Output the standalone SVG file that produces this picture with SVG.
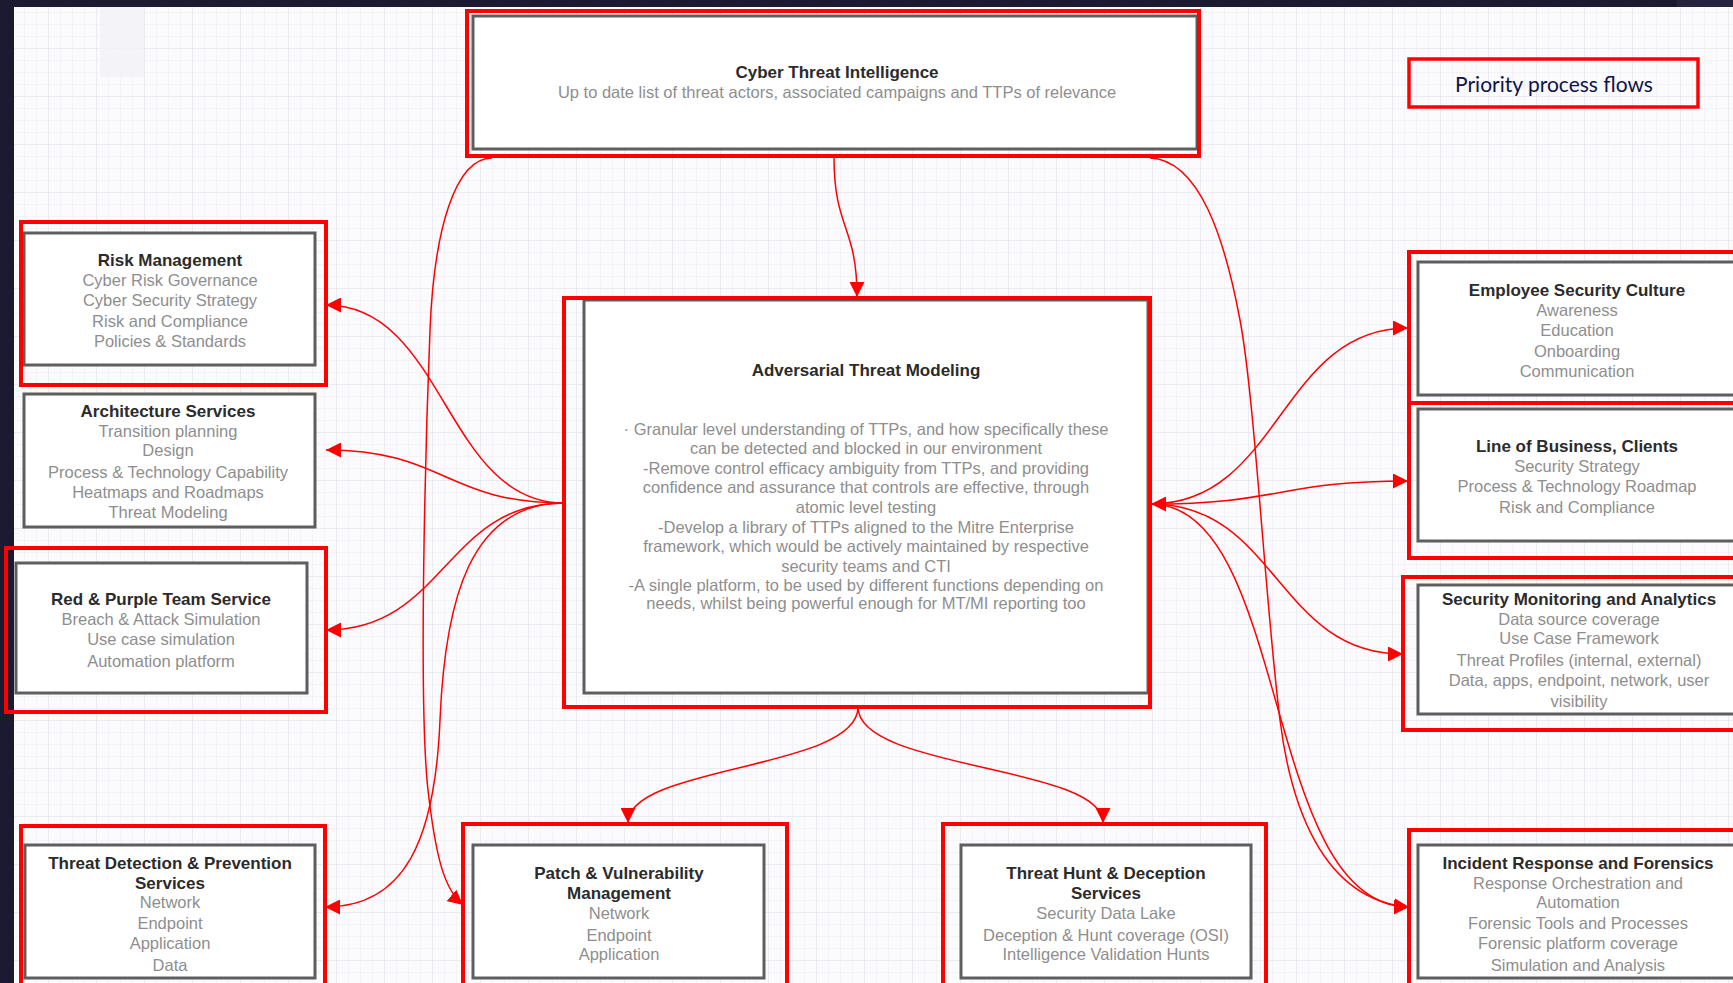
<svg xmlns="http://www.w3.org/2000/svg" width="1733" height="983" viewBox="0 0 1733 983">
<style>
.red{fill:none;stroke:#ff0000;stroke-width:4}
.box{fill:#ffffff;stroke:#5e5e5e;stroke-width:3}
.t{font-family:"Liberation Sans",Arial,sans-serif;font-size:17px;font-weight:bold;fill:#2b2b2b;text-anchor:middle}
.b{font-family:"Liberation Sans",Arial,sans-serif;font-size:16.5px;fill:#8e8e8e;text-anchor:middle}
.c{fill:none;stroke:#ff0000;stroke-width:1.5}
</style>
<defs>
<pattern id="grid" width="12" height="12" patternUnits="userSpaceOnUse"><path d="M12 0H0V12" fill="none" stroke="#ececf3" stroke-width="1"/></pattern>
<pattern id="grid2" width="48" height="48" patternUnits="userSpaceOnUse"><path d="M48 0H0V48" fill="none" stroke="#e3e3ec" stroke-width="1"/></pattern>
<marker id="ah" viewBox="0 0 15 15" refX="15" refY="7.5" markerWidth="15" markerHeight="15" markerUnits="userSpaceOnUse" orient="auto-start-reverse"><path d="M0,0 L15,7.5 L0,15 z" fill="#ff0000"/></marker>
</defs>
<rect width="1733" height="983" fill="#fbfbfe"/>
<rect width="1733" height="983" fill="url(#grid)"/>
<rect width="1733" height="983" fill="url(#grid2)"/>
<rect x="100" y="7" width="44" height="70" fill="#f1f1f6" opacity="0.8"/>
<rect x="0" y="0" width="1733" height="7" fill="#1c1a31"/>
<rect x="1677" y="0" width="56" height="7" fill="#25233d"/>
<rect x="0" y="0" width="14" height="983" fill="#1c1a31"/>

<g id="connectors">
<path class="c" d="M834,157 C834,230 857,225 857,297" marker-end="url(#ah)"/>
<path class="c" d="M564,503 C445,503 445,305 326,305" marker-end="url(#ah)"/>
<path class="c" d="M564,503 C445,503 445,450 326,450" marker-end="url(#ah)"/>
<path class="c" d="M564,503 C445,503 445,630 326,630" marker-end="url(#ah)"/>
<path class="c" d="M564,503 C470,503 445,600 440,720 C435,840 405,907 325,907" marker-end="url(#ah)"/>
<path class="c" d="M492,158 C455,158 434,230 430,330 C426,430 418,700 428,790 C436,860 445,890 463,905" marker-end="url(#ah)"/>
<path class="c" d="M858,707 C858,770 628,765 628,823" marker-end="url(#ah)"/>
<path class="c" d="M858,707 C858,770 1103,765 1103,823" marker-end="url(#ah)"/>
<path class="c" d="M1151,504 C1280,504 1280,328 1408,328" marker-start="url(#ah)" marker-end="url(#ah)"/>
<path class="c" d="M1151,504 C1280,504 1280,481 1408,481" marker-end="url(#ah)"/>
<path class="c" d="M1151,504 C1277,504 1277,654 1403,654" marker-end="url(#ah)"/>
<path class="c" d="M1151,504 C1290,504 1262,907 1409,907" marker-end="url(#ah)"/>
<path class="c" d="M1150,158 C1200,160 1225,240 1240,320 C1255,400 1265,600 1280,720 C1290,800 1320,900 1409,907" marker-end="url(#ah)"/>
</g>

<g id="cti">
<rect class="box" x="473" y="16" width="724" height="133"/>
<rect class="red" x="467" y="11" width="732" height="145"/>
<text class="t" x="837" y="78">Cyber Threat Intelligence</text>
<text class="b" x="837" y="98">Up to date list of threat actors, associated campaigns and TTPs of relevance</text>
</g>

<g id="priority">
<rect x="1409" y="59" width="289" height="48" fill="none" stroke="#ff0000" stroke-width="3.5"/>
<text x="1554" y="92" font-family="Lato, 'Open Sans', sans-serif" font-size="21" fill="#0d1446" text-anchor="middle">Priority process flows</text>
</g>

<g id="risk">
<rect class="box" x="24" y="233" width="291" height="132"/>
<rect class="red" x="21" y="222" width="305" height="163"/>
<text class="t" x="170" y="266">Risk Management</text>
<text class="b" x="170" y="286">Cyber Risk Governance</text>
<text class="b" x="170" y="306">Cyber Security Strategy</text>
<text class="b" x="170" y="327">Risk and Compliance</text>
<text class="b" x="170" y="347">Policies &amp; Standards</text>
</g>

<g id="architecture">
<rect class="box" x="24" y="394" width="291" height="133"/>
<text class="t" x="168" y="417">Architecture Services</text>
<text class="b" x="168" y="437">Transition planning</text>
<text class="b" x="168" y="456">Design</text>
<text class="b" x="168" y="478">Process &amp; Technology Capability</text>
<text class="b" x="168" y="498">Heatmaps and Roadmaps</text>
<text class="b" x="168" y="518">Threat Modeling</text>
</g>

<g id="redpurple">
<rect class="box" x="16" y="563" width="291" height="130"/>
<rect class="red" x="6" y="548" width="320" height="164"/>
<text class="t" x="161" y="605">Red &amp; Purple Team Service</text>
<text class="b" x="161" y="625">Breach &amp; Attack Simulation</text>
<text class="b" x="161" y="645">Use case simulation</text>
<text class="b" x="161" y="667">Automation platform</text>
</g>

<g id="threatdetection">
<rect class="box" x="25" y="845" width="290" height="133"/>
<rect class="red" x="21" y="826" width="304" height="175"/>
<text class="t" x="170" y="869">Threat Detection &amp; Prevention</text>
<text class="t" x="170" y="889">Services</text>
<text class="b" x="170" y="908">Network</text>
<text class="b" x="170" y="929">Endpoint</text>
<text class="b" x="170" y="949">Application</text>
<text class="b" x="170" y="971">Data</text>
</g>

<g id="patch">
<rect class="box" x="473" y="845" width="291" height="133"/>
<rect class="red" x="463" y="824" width="324" height="177"/>
<text class="t" x="619" y="879">Patch &amp; Vulnerability</text>
<text class="t" x="619" y="899">Management</text>
<text class="b" x="619" y="919">Network</text>
<text class="b" x="619" y="941">Endpoint</text>
<text class="b" x="619" y="960">Application</text>
</g>

<g id="threathunt">
<rect class="box" x="961" y="845" width="290" height="133"/>
<rect class="red" x="943" y="824" width="323" height="177"/>
<text class="t" x="1106" y="879">Threat Hunt &amp; Deception</text>
<text class="t" x="1106" y="899">Services</text>
<text class="b" x="1106" y="919">Security Data Lake</text>
<text class="b" x="1106" y="941">Deception &amp; Hunt coverage (OSI)</text>
<text class="b" x="1106" y="960">Intelligence Validation Hunts</text>
</g>

<g id="atm">
<rect class="box" x="584" y="300" width="564" height="393"/>
<rect class="red" x="564" y="298" width="586" height="409"/>
<text class="t" x="866" y="376">Adversarial Threat Modeling</text>
<text class="b" x="866" y="435">· Granular level understanding of TTPs, and how specifically these</text>
<text class="b" x="866" y="454">can be detected and blocked in our environment</text>
<text class="b" x="866" y="474">-Remove control efficacy ambiguity from TTPs, and providing</text>
<text class="b" x="866" y="493">confidence and assurance that controls are effective, through</text>
<text class="b" x="866" y="513">atomic level testing</text>
<text class="b" x="866" y="533">-Develop a library of TTPs aligned to the Mitre Enterprise</text>
<text class="b" x="866" y="552">framework, which would be actively maintained by respective</text>
<text class="b" x="866" y="572">security teams and CTI</text>
<text class="b" x="866" y="591">-A single platform, to be used by different functions depending on</text>
<text class="b" x="866" y="609">needs, whilst being powerful enough for MT/MI reporting too</text>
</g>

<g id="employee">
<rect class="box" x="1418" y="262" width="330" height="133"/>
<rect class="red" x="1409" y="252" width="340" height="151"/>
<text class="t" x="1577" y="296">Employee Security Culture</text>
<text class="b" x="1577" y="316">Awareness</text>
<text class="b" x="1577" y="336">Education</text>
<text class="b" x="1577" y="357">Onboarding</text>
<text class="b" x="1577" y="377">Communication</text>
</g>

<g id="lob">
<rect class="box" x="1418" y="409" width="330" height="132"/>
<rect class="red" x="1409" y="403" width="340" height="155"/>
<text class="t" x="1577" y="452">Line of Business, Clients</text>
<text class="b" x="1577" y="472">Security Strategy</text>
<text class="b" x="1577" y="492">Process &amp; Technology Roadmap</text>
<text class="b" x="1577" y="513">Risk and Compliance</text>
</g>

<g id="sma">
<rect class="box" x="1418" y="585" width="330" height="129"/>
<rect class="red" x="1403" y="577" width="346" height="153"/>
<text class="t" x="1579" y="605">Security Monitoring and Analytics</text>
<text class="b" x="1579" y="625">Data source coverage</text>
<text class="b" x="1579" y="644">Use Case Framework</text>
<text class="b" x="1579" y="666">Threat Profiles (internal, external)</text>
<text class="b" x="1579" y="686">Data, apps, endpoint, network, user</text>
<text class="b" x="1579" y="707">visibility</text>
</g>

<g id="incident">
<rect class="box" x="1418" y="845" width="330" height="133"/>
<rect class="red" x="1409" y="830" width="340" height="171"/>
<text class="t" x="1578" y="869">Incident Response and Forensics</text>
<text class="b" x="1578" y="889">Response Orchestration and</text>
<text class="b" x="1578" y="908">Automation</text>
<text class="b" x="1578" y="929">Forensic Tools and Processes</text>
<text class="b" x="1578" y="949">Forensic platform coverage</text>
<text class="b" x="1578" y="971">Simulation and Analysis</text>
</g>
</svg>
